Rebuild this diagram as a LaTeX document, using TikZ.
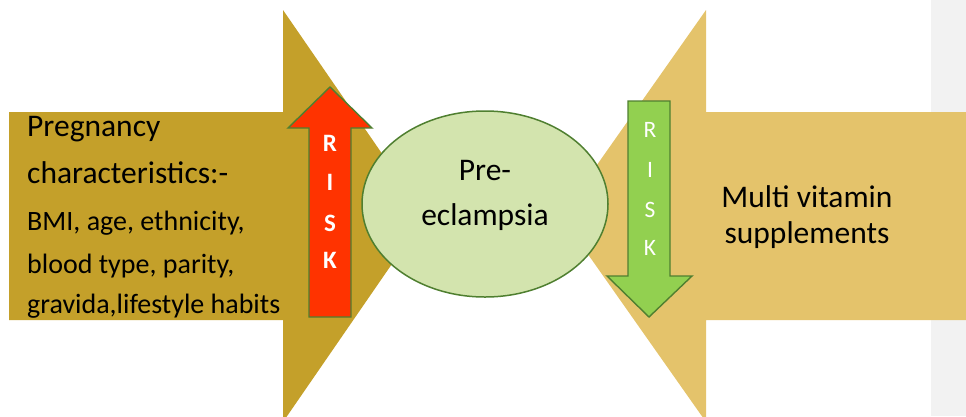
\documentclass[tikz,border=0pt]{standalone}
\usepackage{fontspec}
\setmainfont{Carlito}
\usetikzlibrary{shapes.geometric}
\definecolor{leftgold}{HTML}{C4A02A}
\definecolor{rightgold}{HTML}{E4C36B}
\definecolor{bandgray}{HTML}{F2F2F2}
\definecolor{ellfill}{HTML}{D3E4AE}
\definecolor{ellline}{HTML}{4F7F30}
\definecolor{riskred}{HTML}{FF3300}
\definecolor{riskgreen}{HTML}{92D050}
\tikzset{
  bigtxt/.style={font=\fontsize{31.5}{37}\selectfont, inner sep=0pt, text=black},
  smalltxt/.style={font=\fontsize{28}{33}\selectfont, inner sep=0pt, text=black},
  redletter/.style={font=\fontsize{25}{29}\selectfont\bfseries, text=white, inner sep=0pt, anchor=base},
  greenletter/.style={font=\fontsize{23.5}{27}\selectfont, text=white, inner sep=0pt, anchor=base},
  riskarrow/.style={draw=ellline, line width=1.4pt, line join=miter},
}
\begin{document}
\begin{tikzpicture}[x=1pt,y=-1pt]
\useasboundingbox (0,0) rectangle (966,416);
\clip (0,0) rectangle (966,416);
% gray band at right
\fill[bandgray] (931,0) rectangle (966,416);
% left big arrow
\fill[leftgold] (9,112) -- (283,112) -- (283,10) -- (425,216) -- (283,422) -- (283,320) -- (9,320) -- cycle;
% right big arrow
\fill[rightgold] (970,112) -- (706,112) -- (706,10) -- (561,216) -- (706,422) -- (706,320) -- (970,320) -- cycle;
% ellipse
\node[ellipse, draw=ellline, line width=1.5pt, fill=ellfill, minimum width=246pt, minimum height=186pt, inner sep=0pt] (ell) at (485,204) {};
\node[bigtxt, anchor=base] (pre) at (485,180) {Pre-};
\node[bigtxt, anchor=base] (ecl) at (485,225) {eclampsia};
% red up arrow
\filldraw[riskarrow, fill=riskred] (309,317) -- (309,128) -- (288,128) -- (330,87) -- (372,128) -- (351,128) -- (351,317) -- cycle;
\node[redletter] (r1) at (330,151) {R};
\node[redletter] (r2) at (330,190) {I};
\node[redletter] (r3) at (330,231) {S};
\node[redletter] (r4) at (330,268) {K};
% green down arrow
\filldraw[riskarrow, fill=riskgreen] (628,101) -- (670,101) -- (670,276) -- (692,276) -- (649,317) -- (607,276) -- (628,276) -- cycle;
\node[greenletter] (g1) at (650,137) {R};
\node[greenletter] (g2) at (650,177) {I};
\node[greenletter] (g3) at (650,217) {S};
\node[greenletter] (g4) at (650,255) {K};
% left text
\node[bigtxt, anchor=base west] (l1) at (27,136) {Pregnancy};
\node[bigtxt, anchor=base west] (l2) at (27,183) {characteristics:-};
\node[smalltxt, anchor=base west] (l3) at (27,230) {BMI, age, ethnicity,};
\node[smalltxt, anchor=base west] (l4) at (27,273) {blood type, parity,};
\node[smalltxt, anchor=base west] (l5) at (27,313) {gravida,lifestyle habits};
% right text
\node[bigtxt, anchor=base] (m1) at (807,207) {Multi vitamin};
\node[bigtxt, anchor=base] (m2) at (807,243) {supplements};
\end{tikzpicture}
\end{document}
